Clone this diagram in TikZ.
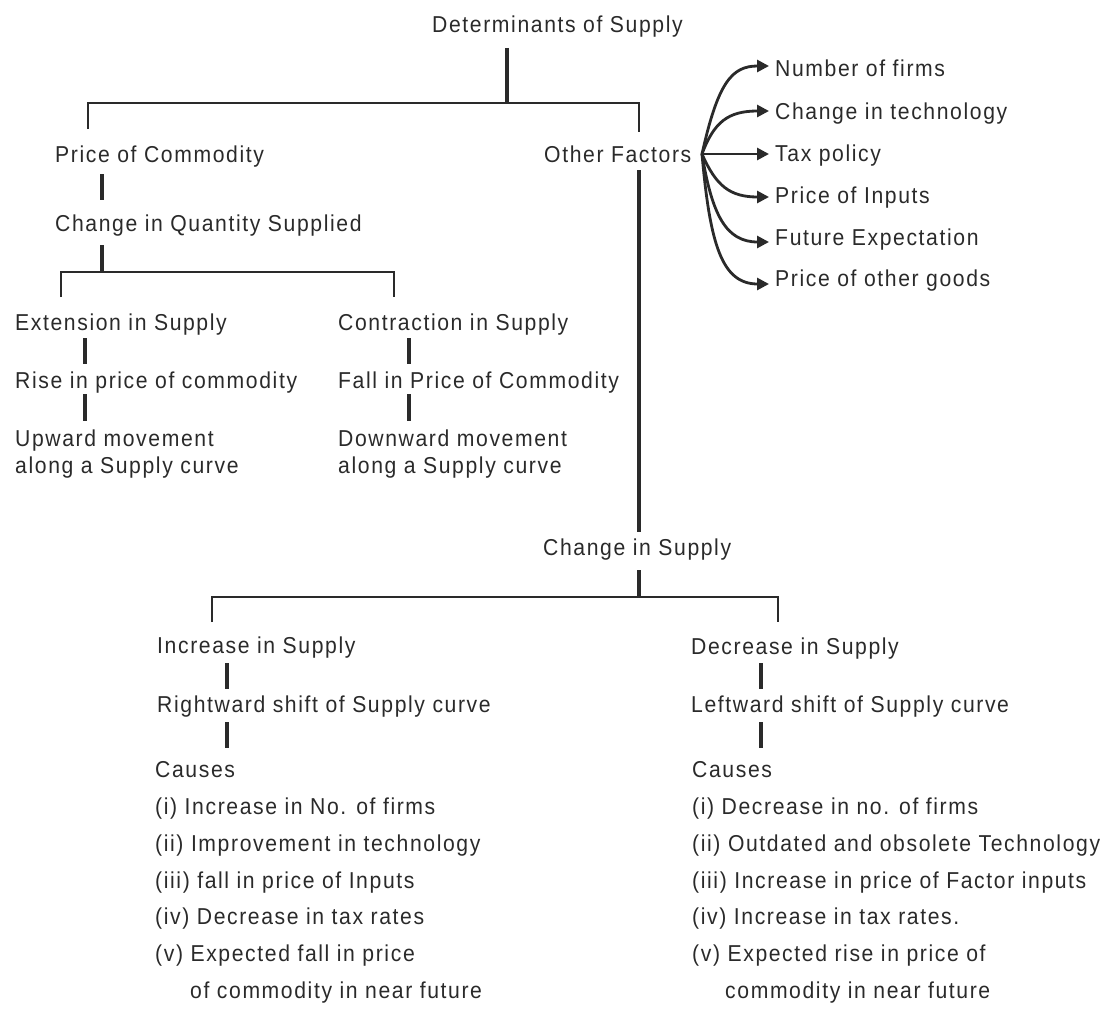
\documentclass[tikz,border=0pt]{standalone}
\usepackage{fontspec}
\setmainfont{Liberation Sans}[LetterSpace=7, FakeStretch=0.92]
\usetikzlibrary{arrows.meta}
\definecolor{ink}{RGB}{42,42,42}
\begin{document}
\begin{tikzpicture}[x=1pt,y=-1pt,
  txt/.style={anchor=base west,inner sep=0pt,text=ink,font=\fontsize{23pt}{27pt}\selectfont},
  brk/.style={draw=ink,line width=2.8pt,line join=miter},
  stem/.style={draw=ink,line width=3.4pt},
  arr/.style={draw=ink,line width=2.8pt,-{Triangle[length=12pt,width=12pt]}}]
\useasboundingbox (0,0) rectangle (1107,1014);
% texts
\node[txt] (title) at (432,33) {Determinants of Supply};
\node[txt] (pc) at (55,162) {Price of Commodity};
\node[txt] (of) at (544,162) {Other Factors};
\node[txt] (cqs) at (55,231) {Change in Quantity Supplied};
\node[txt] (ext) at (15,330) {Extension in Supply};
\node[txt] (con) at (338,330) {Contraction in Supply};
\node[txt] (rise) at (15,388) {Rise in price of commodity};
\node[txt] (fall) at (338,388) {Fall in Price of Commodity};
\node[txt] (up1) at (15,446) {Upward movement};
\node[txt] (up2) at (15,473) {along a Supply curve};
\node[txt] (dn1) at (338,446) {Downward movement};
\node[txt] (dn2) at (338,473) {along a Supply curve};
\node[txt] (cs) at (543,555) {Change in Supply};
\node[txt] (inc) at (157,653) {Increase in Supply};
\node[txt] (dec) at (691,654) {Decrease in Supply};
\node[txt] (rs) at (157,712) {Rightward shift of Supply curve};
\node[txt] (ls) at (691,712) {Leftward shift of Supply curve};
\node[txt] (lc) at (155,777) {Causes};
\node[txt] (l1) at (155,814) {(i) Increase in No. of firms};
\node[txt] (l2) at (155,851) {(ii) Improvement in technology};
\node[txt] (l3) at (155,888) {(iii) fall in price of Inputs};
\node[txt] (l4) at (155,924) {(iv) Decrease in tax rates};
\node[txt] (l5) at (155,961) {(v) Expected fall in price};
\node[txt] (l6) at (190,998) {of commodity in near future};
\node[txt] (rc) at (692,777) {Causes};
\node[txt] (r1) at (692,814) {(i) Decrease in no. of firms};
\node[txt] (r2) at (692,851) {(ii) Outdated and obsolete Technology};
\node[txt] (r3) at (692,888) {(iii) Increase in price of Factor inputs};
\node[txt] (r4) at (692,924) {(iv) Increase in tax rates.};
\node[txt] (r5) at (692,961) {(v) Expected rise in price of};
\node[txt] (r6) at (725,998) {commodity in near future};
% other factors list
\node[txt] (f1) at (775,77) {Number of firms};
\node[txt] (f2) at (775,119) {Change in technology};
\node[txt] (f3) at (775,161) {Tax policy};
\node[txt] (f4) at (775,203) {Price of Inputs};
\node[txt] (f5) at (775,245) {Future Expectation};
\node[txt] (f6) at (775,286) {Price of other goods};
% arrow coordinates
\coordinate (o) at (702,154);
\coordinate (a1) at (769,66);
\coordinate (a2) at (769,111);
\coordinate (a3) at (769,154);
\coordinate (a4) at (769,197);
\coordinate (a5) at (769,242);
\coordinate (a6) at (769,284);
\draw[arr] (o) .. controls (718,82) and (732,66) .. (a1);
\draw[arr] (o) .. controls (714,122) and (728,111) .. (a2);
\draw[arr] (o) -- (a3);
\draw[arr] (o) .. controls (716,186) and (730,197) .. (a4);
\draw[arr] (o) .. controls (712,215) and (726,242) .. (a5);
\draw[arr] (o) .. controls (710,245) and (722,284) .. (a6);
% tree coordinates
\coordinate (t0) at (507,48);
\coordinate (t1) at (507,103);
\coordinate (bl) at (88,103);
\coordinate (br) at (639,103);
\coordinate (blb) at (88,129);
\coordinate (brb) at (639,132);
\draw[stem] (t0) -- (t1);
\draw[brk] (blb) -- (bl) -- (br) -- (brb);
\coordinate (p1) at (102,174); \coordinate (p2) at (102,200);
\coordinate (p3) at (102,245); \coordinate (p4) at (102,272);
\draw[stem] (p1) -- (p2);
\draw[stem] (p3) -- (p4);
\coordinate (q1) at (61,297); \coordinate (q2) at (61,272);
\coordinate (q3) at (394,272); \coordinate (q4) at (394,297);
\draw[brk] (q1) -- (q2) -- (q3) -- (q4);
\coordinate (e1) at (85,338); \coordinate (e2) at (85,364);
\coordinate (e3) at (85,394); \coordinate (e4) at (85,421);
\draw[stem] (e1) -- (e2);
\draw[stem] (e3) -- (e4);
\coordinate (c1) at (409,338); \coordinate (c2) at (409,364);
\coordinate (c3) at (409,394); \coordinate (c4) at (409,421);
\draw[stem] (c1) -- (c2);
\draw[stem] (c3) -- (c4);
\coordinate (v1) at (639,170); \coordinate (v2) at (639,532);
\coordinate (v3) at (639,570); \coordinate (v4) at (639,597);
\draw[stem] (v1) -- (v2);
\draw[stem] (v3) -- (v4);
\coordinate (s1) at (212,622); \coordinate (s2) at (212,597);
\coordinate (s3) at (778,597); \coordinate (s4) at (778,622);
\draw[brk] (s1) -- (s2) -- (s3) -- (s4);
\coordinate (i1) at (227,663); \coordinate (i2) at (227,689);
\coordinate (i3) at (227,722); \coordinate (i4) at (227,748);
\draw[stem] (i1) -- (i2);
\draw[stem] (i3) -- (i4);
\coordinate (d1) at (761,663); \coordinate (d2) at (761,689);
\coordinate (d3) at (761,722); \coordinate (d4) at (761,748);
\draw[stem] (d1) -- (d2);
\draw[stem] (d3) -- (d4);
\end{tikzpicture}
\end{document}
